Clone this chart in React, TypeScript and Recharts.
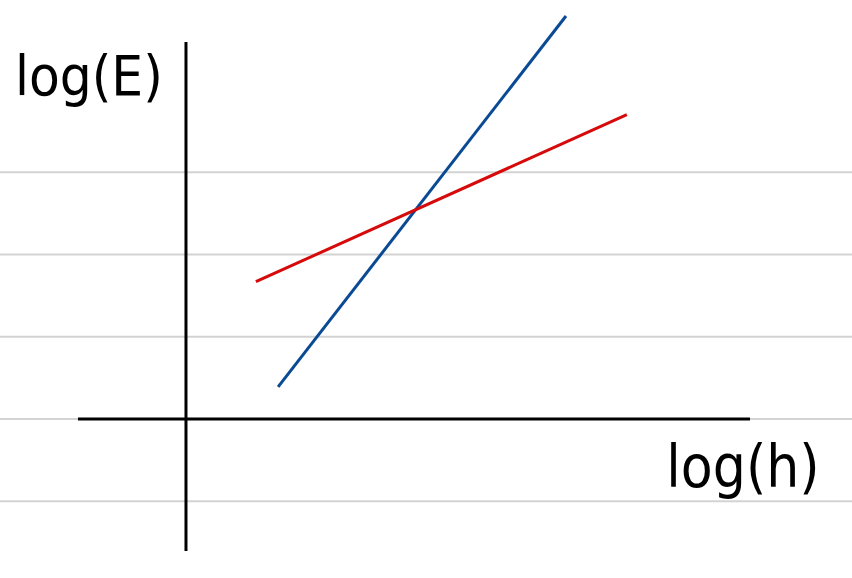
import React from "react";
import { LineChart, Line, XAxis, YAxis, ReferenceLine, ReferenceDot } from "recharts";

// Data space: 1 unit = one ruled-line spacing; origin at the axes crossing
const blueLine = [
  { x: 1.12, y: 0.39 },
  { x: 4.62, y: 4.9 },
];
const redLine = [
  { x: 0.85, y: 1.67 },
  { x: 5.36, y: 3.7 },
];
const ruledLines = [-1, 0, 1, 2, 3];
const xAxisSegment = [-1.313, 6.857];
const yAxisSegment = [-1.605, 4.584];
const xLabel = "log(h)";
const yLabel = "log(E)";

const labelStyle = {
  fontFamily: "DejaVu Sans Condensed, DejaVu Sans, sans-serif",
  fontStretch: "condensed",
  fill: "#000",
};

export default function App() {
  return (
    <div style={{ width: 852, height: 578 }}>
      <style>{`body{margin:0}`}</style>
      <LineChart width={852} height={578} margin={{ top: 0, right: 0, bottom: 0, left: 0 }}>
        <XAxis type="number" dataKey="x" domain={[-2.261, 8.097]} hide allowDataOverflow />
        <YAxis type="number" dataKey="y" domain={[-1.933, 5.094]} hide allowDataOverflow />
        {ruledLines.map((v) => (
          <ReferenceLine key={v} y={v} stroke="#d3d3d3" strokeWidth={2} />
        ))}
        <ReferenceLine
          segment={[
            { x: xAxisSegment[0], y: 0 },
            { x: xAxisSegment[1], y: 0 },
          ]}
          stroke="#000"
          strokeWidth={3}
        />
        <ReferenceLine
          segment={[
            { x: 0, y: yAxisSegment[0] },
            { x: 0, y: yAxisSegment[1] },
          ]}
          stroke="#000"
          strokeWidth={3}
        />
        <Line data={blueLine} dataKey="y" stroke="#0a4a94" strokeWidth={3} dot={false} activeDot={false} isAnimationActive={false} />
        <Line data={redLine} dataKey="y" stroke="#d60a0a" strokeWidth={3} dot={false} activeDot={false} isAnimationActive={false} />
        <ReferenceDot
          x={-2.08}
          y={3.94}
          r={0}
          stroke="none"
          fill="none"
          label={(p: any) => (
            <text x={p.viewBox.x} y={p.viewBox.y} style={{ ...labelStyle, fontSize: 56 }} textAnchor="start">
              {yLabel}
            </text>
          )}
        />
        <ReferenceDot
          x={5.84}
          y={-0.83}
          r={0}
          stroke="none"
          fill="none"
          label={(p: any) => (
            <text x={p.viewBox.x} y={p.viewBox.y} style={{ ...labelStyle, fontSize: 58 }} textAnchor="start">
              {xLabel}
            </text>
          )}
        />
      </LineChart>
    </div>
  );
}
